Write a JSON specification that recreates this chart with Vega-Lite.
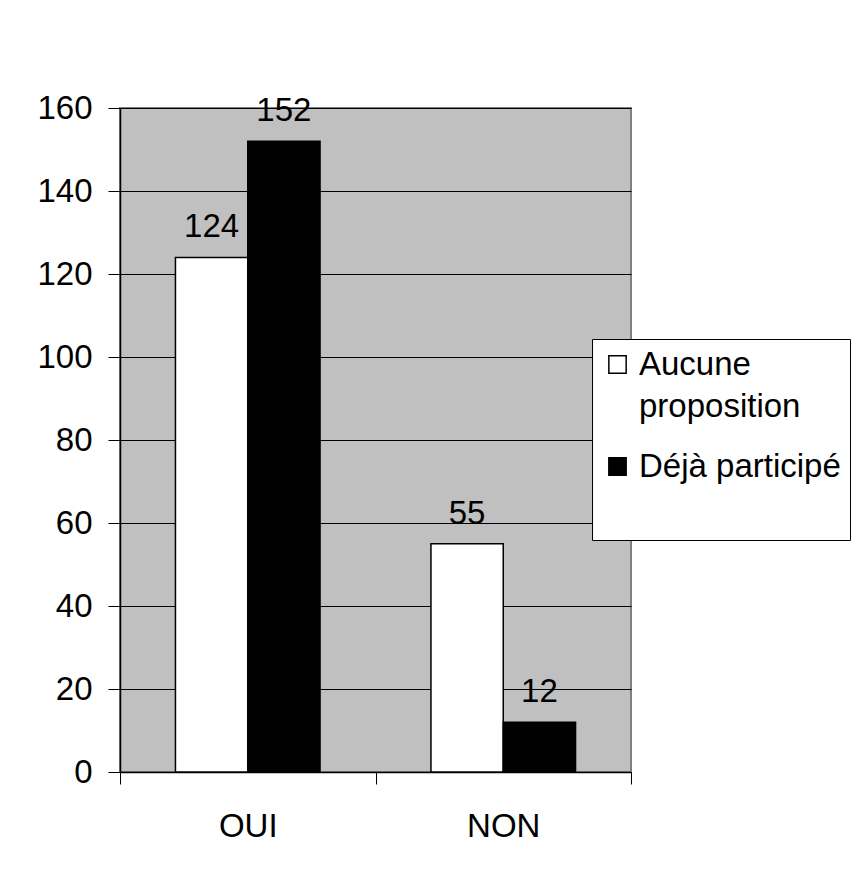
{
  "$schema": "https://vega.github.io/schema/vega-lite/v6.json",
  "width": 511,
  "height": 664,
  "autosize": "none",
  "padding": {"left": 120, "top": 108, "right": 222, "bottom": 102},
  "background": "white",
  "config": {
    "font": "Liberation Sans",
    "view": {"fill": "#C0C0C0", "stroke": "#808080", "strokeWidth": 2}
  },
  "data": {
    "values": [
      {"cat": "OUI", "serie": "Aucune proposition", "v": 124},
      {"cat": "OUI", "serie": "Déjà participé", "v": 152},
      {"cat": "NON", "serie": "Aucune proposition", "v": 55},
      {"cat": "NON", "serie": "Déjà participé", "v": 12}
    ]
  },
  "encoding": {
    "x": {
      "field": "cat", "type": "nominal", "sort": ["OUI", "NON"],
      "scale": {"paddingInner": 0, "paddingOuter": 0},
      "axis": {
        "title": null, "labelAngle": 0, "labelFontSize": 33, "labelColor": "black",
        "labelPadding": 26, "tickBand": "extent", "tickSize": 12, "tickColor": "black",
        "domainColor": "black", "domainWidth": 1.5, "grid": false
      }
    },
    "xOffset": {
      "field": "serie", "type": "nominal", "sort": ["Aucune proposition", "Déjà participé"],
      "scale": {"paddingInner": 0, "paddingOuter": 0.767}
    },
    "y": {
      "field": "v", "type": "quantitative",
      "scale": {"domain": [0, 160]},
      "axis": {
        "title": null, "values": [0, 20, 40, 60, 80, 100, 120, 140, 160],
        "labelFontSize": 33, "labelColor": "black", "labelPadding": 16,
        "tickSize": 12, "tickColor": "black", "domainColor": "black", "domainWidth": 1.5,
        "grid": true, "gridColor": "black", "gridWidth": 1, "gridOpacity": 1
      }
    }
  },
  "layer": [
    {
      "mark": {"type": "bar", "stroke": "black", "strokeWidth": 1.5},
      "encoding": {
        "fill": {
          "field": "serie", "type": "nominal",
          "scale": {"domain": ["Aucune proposition", "Déjà participé", " "], "range": ["white", "black", "white"]},
          "legend": {
            "title": null,
            "orient": "none", "legendX": 472, "legendY": 231,
            "fillColor": "white", "strokeColor": "black", "padding": 9,
            "symbolType": "square", "symbolSize": 300, "symbolStrokeColor": "black", "symbolStrokeWidth": 1.5,
            "symbolOpacity": 1,
            "labelFontSize": 33, "labelColor": "black", "labelOffset": 5, "labelLimit": 300,
            "labelExpr": "datum.label == 'Aucune proposition' ? ['Aucune', 'proposition'] : datum.label",
            "rowPadding": 26,
            "encode": {
              "symbols": {"update": {
                "opacity": {"signal": "datum.value === ' ' ? 0 : 1"},
                "size": {"signal": "datum.value === ' ' ? 1 : 300"}
              }},
              "labels": {"update": {
                "lineHeight": {"value": 42},
                "fontSize": {"signal": "datum.value === ' ' ? 8 : 33"}
              }}
            }
          }
        }
      }
    },
    {
      "mark": {"type": "text", "fontSize": 33, "color": "black", "baseline": "alphabetic", "dy": -20},
      "encoding": {"text": {"field": "v", "type": "quantitative"}}
    }
  ]
}
